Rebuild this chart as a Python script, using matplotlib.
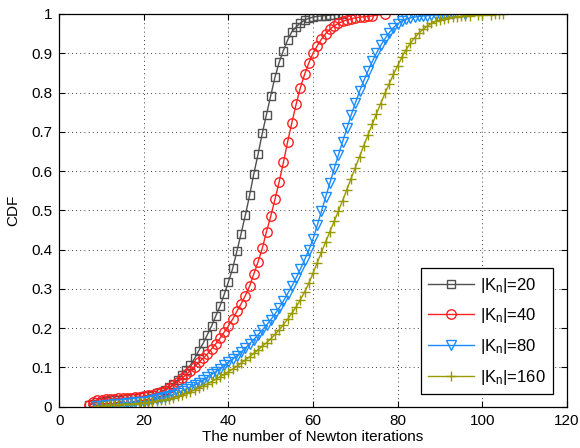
import matplotlib
matplotlib.use("Agg")
import matplotlib.pyplot as plt

plt.rcParams['font.family'] = ['Liberation Sans', 'DejaVu Sans']
plt.rcParams['mathtext.fontset'] = 'custom'
plt.rcParams['mathtext.rm'] = 'Liberation Sans'
plt.rcParams['mathtext.it'] = 'Liberation Sans'

# ---------------- data ----------------
x20 = list(range(7, 68))
cdf20 = [0.004, 0.008, 0.011, 0.013, 0.015, 0.016, 0.017, 0.018, 0.019, 0.020,
         0.021, 0.023, 0.024, 0.026, 0.028, 0.030, 0.034, 0.038, 0.043, 0.049,
         0.057, 0.068, 0.081, 0.093, 0.106, 0.123, 0.143, 0.161, 0.183, 0.205,
         0.231, 0.256, 0.286, 0.318, 0.352, 0.396, 0.441, 0.488, 0.538, 0.593,
         0.643, 0.696, 0.744, 0.792, 0.839, 0.877, 0.907, 0.934, 0.955, 0.967,
         0.977, 0.984, 0.989, 0.992, 0.994, 0.995, 0.996, 0.997, 0.998, 0.999,
         1.000]

x40 = list(range(7, 75)) + [77]
cdf40 = [0.004, 0.012, 0.016, 0.018, 0.019, 0.020, 0.020, 0.021, 0.022, 0.022,
         0.023, 0.024, 0.025, 0.027, 0.029, 0.031, 0.034, 0.037, 0.041, 0.048,
         0.055, 0.063, 0.072, 0.082, 0.092, 0.102, 0.113, 0.123, 0.134, 0.147,
         0.160, 0.174, 0.190, 0.206, 0.223, 0.243, 0.262, 0.283, 0.307, 0.338,
         0.369, 0.403, 0.446, 0.485, 0.528, 0.573, 0.622, 0.675, 0.723, 0.770,
         0.812, 0.846, 0.875, 0.900, 0.919, 0.936, 0.950, 0.961, 0.970, 0.976,
         0.981, 0.985, 0.988, 0.990, 0.992, 0.993, 0.994, 0.995, 1.000]

x80 = list(range(9, 94)) + [96]
cdf80 = [0.001, 0.003, 0.004, 0.005, 0.006, 0.007, 0.008, 0.009, 0.010, 0.011,
         0.012, 0.013, 0.015, 0.017, 0.019, 0.021, 0.024, 0.027, 0.031, 0.035,
         0.040, 0.045, 0.050, 0.055, 0.061, 0.068, 0.075, 0.082, 0.089, 0.097,
         0.105, 0.113, 0.121, 0.130, 0.139, 0.149, 0.160, 0.171, 0.183, 0.195,
         0.208, 0.221, 0.236, 0.252, 0.269, 0.288, 0.307, 0.328, 0.350, 0.374,
         0.399, 0.427, 0.462, 0.498, 0.534, 0.570, 0.606, 0.641, 0.675, 0.709,
         0.742, 0.773, 0.803, 0.830, 0.855, 0.879, 0.900, 0.920, 0.937, 0.952,
         0.965, 0.975, 0.982, 0.987, 0.990, 0.992, 0.994, 0.995, 0.996, 0.997,
         0.997, 0.998, 0.998, 0.999, 0.999, 1.000]

x160 = list(range(9, 98)) + [99, 100, 102, 103, 104, 105]
cdf160 = [0.001, 0.002, 0.003, 0.004, 0.004, 0.005, 0.006, 0.006, 0.007, 0.008,
          0.009, 0.010, 0.011, 0.012, 0.014, 0.016, 0.018, 0.020, 0.023, 0.026,
          0.030, 0.034, 0.038, 0.043, 0.048, 0.053, 0.058, 0.064, 0.070, 0.076,
          0.082, 0.089, 0.096, 0.103, 0.111, 0.119, 0.127, 0.136, 0.145, 0.154,
          0.163, 0.173, 0.184, 0.196, 0.209, 0.223, 0.238, 0.254, 0.272, 0.292,
          0.314, 0.340, 0.367, 0.394, 0.420, 0.446, 0.472, 0.498, 0.525, 0.553,
          0.581, 0.609, 0.637, 0.665, 0.692, 0.719, 0.746, 0.772, 0.798, 0.822,
          0.846, 0.868, 0.890, 0.909, 0.925, 0.939, 0.951, 0.961, 0.969, 0.976,
          0.981, 0.985, 0.988, 0.990, 0.992, 0.993, 0.994, 0.995, 0.996,
          0.997, 0.998, 0.998, 0.999, 0.999, 1.000]

labels = [r'|K$_\mathregular{n}$|=20', r'|K$_\mathregular{n}$|=40',
          r'|K$_\mathregular{n}$|=80', r'|K$_\mathregular{n}$|=160']
xticks = [0, 20, 40, 60, 80, 100, 120]
yticks = [0, 0.1, 0.2, 0.3, 0.4, 0.5, 0.6, 0.7, 0.8, 0.9, 1]
ytick_labels = ['0', '0.1', '0.2', '0.3', '0.4', '0.5', '0.6', '0.7', '0.8', '0.9', '1']

# ---------------- plot ----------------
fig = plt.figure(figsize=(5.8, 4.48), dpi=100)
ax = fig.add_axes([0.1022, 0.0922, 0.8750, 0.8766])

ax.plot(x20, cdf20, color='#505050', lw=1.0, marker='s', ms=5.2, mfc='none',
        mew=1.0, label=labels[0])
ax.plot(x40, cdf40, color='#ff2020', lw=1.0, marker='o', ms=6.8, mfc='none',
        mew=1.0, label=labels[1])
ax.plot(x80, cdf80, color='#1a8cff', lw=1.0, marker='v', ms=7.0, mfc='none',
        mew=1.0, label=labels[2])
ax.plot(x160, cdf160, color='#999900', lw=1.0, marker='+', ms=7.0,
        mew=1.0, label=labels[3])

ax.set_xlim(0, 120)
ax.set_ylim(0, 1)
ax.set_xticks(xticks)
ax.set_yticks(yticks)
ax.set_yticklabels(ytick_labels)
ax.tick_params(direction='in', top=True, right=True, length=4, width=0.8,
               labelsize=11, pad=5)
ax.grid(True, linestyle=(0, (1, 4)), color='black', lw=0.6)
for s in ax.spines.values():
    s.set_linewidth(0.9)

ax.set_xlabel('The number of Newton iterations', fontsize=11, labelpad=2)
ax.set_ylabel('CDF', fontsize=11, labelpad=8)

leg = ax.legend(loc='lower right', fontsize=12, handlelength=2.75,
                fancybox=False, edgecolor='black', framealpha=1,
                borderpad=0.45, labelspacing=0.7, handletextpad=0.35,
                borderaxespad=0, bbox_to_anchor=(0.973, 0.032))
leg.get_frame().set_linewidth(0.9)

fig.savefig('out.png', dpi=100)
